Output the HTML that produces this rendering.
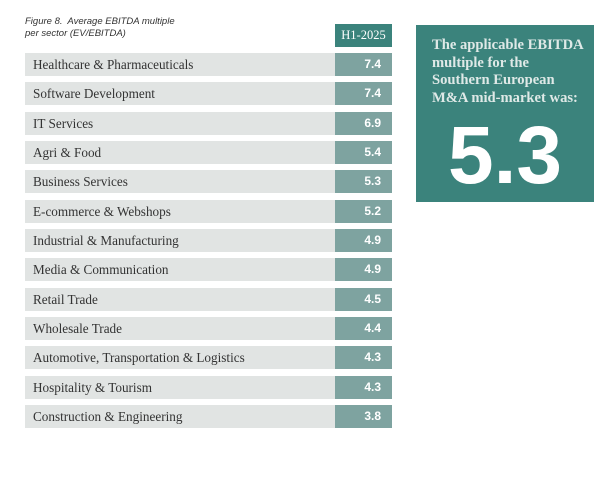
<!DOCTYPE html>
<html><head><meta charset="utf-8"><style>
body{margin:0;width:602px;height:480px;background:#fff;position:relative;overflow:hidden;font-family:"Liberation Sans",sans-serif}
.t{position:absolute;left:25px;top:16px;font-size:9.5px;font-style:italic;color:#333;line-height:12px}
.hdr{position:absolute;left:335px;top:24px;width:57px;height:23px;background:#3b837c;color:#fff;font-family:"Liberation Serif",serif;font-size:12.5px;line-height:23px;text-align:center}
.row{position:absolute;left:25px;width:367px;height:23px}
.lab{position:absolute;left:0;top:0;width:310px;height:23px;background:#e1e4e3;font-family:"Liberation Serif",serif;font-size:13.2px;line-height:23px;color:#333;padding-left:8px;box-sizing:border-box;white-space:nowrap}
.val{position:absolute;left:310px;top:0;width:57px;height:23px;background:#7ea3a0;color:#fff;font-weight:bold;font-size:12px;line-height:23px;text-align:right;padding-right:11px;box-sizing:border-box}
.panel{position:absolute;left:416px;top:25px;width:178px;height:177px;background:#3b837c;color:#fff}
.pt{position:absolute;left:16px;top:12px;font-family:"Liberation Serif",serif;font-weight:bold;font-size:14.6px;line-height:17.5px;color:#dfe9e7;white-space:nowrap}
.big{position:absolute;left:0;width:178px;top:89px;text-align:center;font-weight:bold;font-size:82px;line-height:84px}
</style></head><body>
<div class="t">Figure 8.&nbsp; Average EBITDA multiple<br>per sector (EV/EBITDA)</div>
<div class="hdr">H1-2025</div>
<div id="rows"></div>
<div class="panel">
<div class="pt">The applicable EBITDA<br>multiple for the<br>Southern European<br>M&amp;A mid-market was:</div>
<div class="big">5.3</div>
</div>
<script>
const sectors=["Healthcare & Pharmaceuticals","Software Development","IT Services","Agri & Food","Business Services","E-commerce & Webshops","Industrial & Manufacturing","Media & Communication","Retail Trade","Wholesale Trade","Automotive, Transportation & Logistics","Hospitality & Tourism","Construction & Engineering"];
const values=[7.4,7.4,6.9,5.4,5.3,5.2,4.9,4.9,4.5,4.4,4.3,4.3,3.8];
const c=document.getElementById('rows');
sectors.forEach((s,i)=>{
const r=document.createElement('div');r.className='row';r.style.top=(53+i*29.33)+'px';


const l=document.createElement('div');l.className='lab';l.textContent=s;


const v=document.createElement('div');v.className='val';v.textContent=values[i].toFixed(1);


r.appendChild(l);r.appendChild(v);c.appendChild(r);
});
</script>
</body></html>
